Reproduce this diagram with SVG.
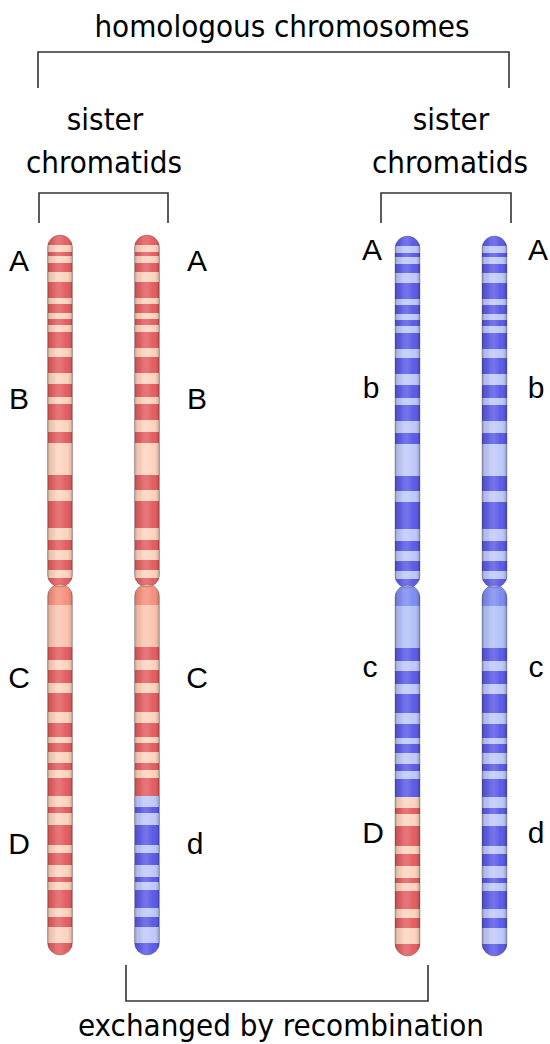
<svg xmlns="http://www.w3.org/2000/svg" xmlns:xlink="http://www.w3.org/1999/xlink" width="550" height="1044" viewBox="0 0 550 1044">
  <style>
    .cap{font-family:"DejaVu Sans Condensed","DejaVu Sans",sans-serif;font-stretch:condensed;font-size:31px;fill:#000;text-anchor:middle}
    .gene{font-family:"Liberation Sans",Arial,sans-serif;font-size:30px;fill:#000;text-anchor:middle}
    .br{fill:none;stroke:#333;stroke-width:1.6}
    .rd{fill:#e35e61}.rl{fill:#fdd3be}.rc{fill:#f5917e}.rp{fill:#fcc5b0}
    .bd{fill:#5b5be6}.bl{fill:#bfc9fa}.bc{fill:#7d8df0}.bp{fill:#b2c2f8}
    .rim{fill:none;stroke:#5a4c4c;stroke-opacity:.35;stroke-width:1}
  </style>
  <defs>
    <clipPath id="armUp"><rect x="0" y="235" width="25" height="352" rx="12.5"/></clipPath>
    <clipPath id="armLow"><rect x="0" y="584" width="25" height="371" rx="12.5"/></clipPath>
    <linearGradient id="shade" x1="0" y1="0" x2="1" y2="0">
      <stop offset="0" stop-color="#000" stop-opacity=".28"/>
      <stop offset=".1" stop-color="#000" stop-opacity=".07"/>
      <stop offset=".35" stop-color="#fff" stop-opacity=".12"/>
      <stop offset=".5" stop-color="#fff" stop-opacity=".15"/>
      <stop offset=".75" stop-color="#fff" stop-opacity="0"/>
      <stop offset=".92" stop-color="#000" stop-opacity=".1"/>
      <stop offset="1" stop-color="#000" stop-opacity=".3"/>
    </linearGradient>
    <!-- light bands of the short (upper) arm -->
    <g id="upLight">
      <rect x="0" y="245" width="25" height="7"/>
      <rect x="0" y="256" width="25" height="7"/>
      <rect x="0" y="272" width="25" height="10"/>
      <rect x="0" y="298" width="25" height="6"/>
      <rect x="0" y="313" width="25" height="6"/>
      <rect x="0" y="325" width="25" height="7"/>
      <rect x="0" y="348" width="25" height="9"/>
      <rect x="0" y="373" width="25" height="11"/>
      <rect x="0" y="397" width="25" height="7"/>
      <rect x="0" y="420" width="25" height="12"/>
      <rect x="0" y="443" width="25" height="32"/>
      <rect x="0" y="490" width="25" height="11"/>
      <rect x="0" y="528" width="25" height="12"/>
      <rect x="0" y="550" width="25" height="10"/>
      <rect x="0" y="570" width="25" height="8"/>
    </g>
    <!-- light bands of the long arm, above the crossover point -->
    <g id="lowLightA">
      <rect x="0" y="660" width="25" height="10"/>
      <rect x="0" y="683" width="25" height="10"/>
      <rect x="0" y="712" width="25" height="11"/>
      <rect x="0" y="737" width="25" height="6"/>
      <rect x="0" y="752" width="25" height="11"/>
      <rect x="0" y="770" width="25" height="8"/>
    </g>
    <!-- light bands of the long arm, below the crossover point -->
    <g id="lowLightB">
      <rect x="0" y="796" width="25" height="11"/>
      <rect x="0" y="813" width="25" height="12"/>
      <rect x="0" y="845" width="25" height="8"/>
      <rect x="0" y="865" width="25" height="12"/>
      <rect x="0" y="882" width="25" height="8"/>
      <rect x="0" y="908" width="25" height="9"/>
      <rect x="0" y="927" width="25" height="16"/>
    </g>
    <g id="rim">
      <rect class="rim" x="0" y="235" width="25" height="352" rx="12.5"/>
      <rect class="rim" x="0" y="584" width="25" height="371" rx="12.5"/>
    </g>
  </defs>

  <!-- brackets -->
  <g id="connectors">
    <path class="br" d="M38,88 V52 H509 V88"/>
    <path class="br" d="M39,223 V193 H168 V223"/>
    <path class="br" d="M381,223 V193 H511 V223"/>
    <path class="br" d="M126,965 V1001 H428 V965"/>
  </g>

  <g id="captions">
    <text class="cap" x="282" y="37">homologous chromosomes</text>
    <text class="cap" x="105" y="130">sister</text>
    <text class="cap" x="104" y="173">chromatids</text>
    <text class="cap" x="451" y="130">sister</text>
    <text class="cap" x="450" y="173">chromatids</text>
    <text class="cap" x="281" y="1036">exchanged by recombination</text>
  </g>

  <!-- maternal chromatid 1 -->
  <g id="chromatid-red-1" transform="translate(47.5,0)">
    <g clip-path="url(#armUp)">
      <rect class="rd" x="0" y="235" width="25" height="352"/>
      <use href="#upLight" class="rl"/>
      <rect x="0" y="230" width="25" height="360" fill="url(#shade)"/>
    </g>
    <g clip-path="url(#armLow)">
      <rect class="rc" x="0" y="584" width="25" height="21"/>
      <rect class="rp" x="0" y="605" width="25" height="42"/>
      <rect class="rd" x="0" y="647" width="25" height="149"/>
      <use href="#lowLightA" class="rl"/>
      <rect class="rd" x="0" y="796" width="25" height="160"/>
      <use href="#lowLightB" class="rl"/>
      <rect x="0" y="580" width="25" height="380" fill="url(#shade)"/>
    </g>
    <use href="#rim"/>
  </g>

  <!-- maternal chromatid 2, recombinant below the crossover -->
  <g id="chromatid-red-2" transform="translate(134.5,0)">
    <g clip-path="url(#armUp)">
      <rect class="rd" x="0" y="235" width="25" height="352"/>
      <use href="#upLight" class="rl"/>
      <rect x="0" y="230" width="25" height="360" fill="url(#shade)"/>
    </g>
    <g clip-path="url(#armLow)">
      <rect class="rc" x="0" y="584" width="25" height="21"/>
      <rect class="rp" x="0" y="605" width="25" height="42"/>
      <rect class="rd" x="0" y="647" width="25" height="149"/>
      <use href="#lowLightA" class="rl"/>
      <rect class="bd" x="0" y="796" width="25" height="160"/>
      <use href="#lowLightB" class="bl"/>
      <rect x="0" y="580" width="25" height="380" fill="url(#shade)"/>
    </g>
    <use href="#rim"/>
  </g>

  <!-- paternal chromatid 1, recombinant below the crossover -->
  <g id="chromatid-blue-1" transform="translate(395,1)">
    <g clip-path="url(#armUp)">
      <rect class="bd" x="0" y="235" width="25" height="352"/>
      <use href="#upLight" class="bl"/>
      <rect x="0" y="230" width="25" height="360" fill="url(#shade)"/>
    </g>
    <g clip-path="url(#armLow)">
      <rect class="bc" x="0" y="584" width="25" height="21"/>
      <rect class="bp" x="0" y="605" width="25" height="42"/>
      <rect class="bd" x="0" y="647" width="25" height="149"/>
      <use href="#lowLightA" class="bl"/>
      <rect class="rd" x="0" y="796" width="25" height="160"/>
      <use href="#lowLightB" class="rl"/>
      <rect x="0" y="580" width="25" height="380" fill="url(#shade)"/>
    </g>
    <use href="#rim"/>
  </g>

  <!-- paternal chromatid 2 -->
  <g id="chromatid-blue-2" transform="translate(482,1)">
    <g clip-path="url(#armUp)">
      <rect class="bd" x="0" y="235" width="25" height="352"/>
      <use href="#upLight" class="bl"/>
      <rect x="0" y="230" width="25" height="360" fill="url(#shade)"/>
    </g>
    <g clip-path="url(#armLow)">
      <rect class="bc" x="0" y="584" width="25" height="21"/>
      <rect class="bp" x="0" y="605" width="25" height="42"/>
      <rect class="bd" x="0" y="647" width="25" height="149"/>
      <use href="#lowLightA" class="bl"/>
      <rect class="bd" x="0" y="796" width="25" height="160"/>
      <use href="#lowLightB" class="bl"/>
      <rect x="0" y="580" width="25" height="380" fill="url(#shade)"/>
    </g>
    <use href="#rim"/>
  </g>

  <!-- allele labels -->
  <g id="labels-red-1">
    <text class="gene" x="19" y="271">A</text>
    <text class="gene" x="19" y="409">B</text>
    <text class="gene" x="19" y="688">C</text>
    <text class="gene" x="19" y="854">D</text>
  </g>
  <g id="labels-red-2">
    <text class="gene" x="197" y="271">A</text>
    <text class="gene" x="197" y="409">B</text>
    <text class="gene" x="197" y="688">C</text>
    <text class="gene" x="195" y="854">d</text>
  </g>
  <g id="labels-blue-1">
    <text class="gene" x="372" y="260">A</text>
    <text class="gene" x="371" y="398">b</text>
    <text class="gene" x="370" y="677">c</text>
    <text class="gene" x="373" y="843">D</text>
  </g>
  <g id="labels-blue-2">
    <text class="gene" x="538" y="260">A</text>
    <text class="gene" x="536" y="398">b</text>
    <text class="gene" x="536" y="677">c</text>
    <text class="gene" x="536" y="843">d</text>
  </g>
</svg>
